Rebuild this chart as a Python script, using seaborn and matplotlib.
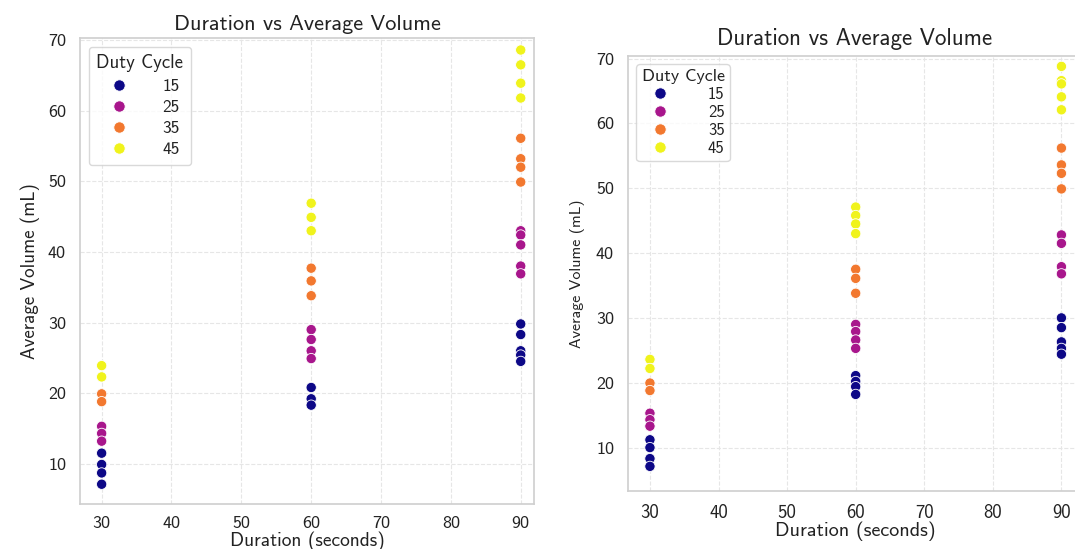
import numpy as np
import pandas as pd
import matplotlib
matplotlib.use("Agg")
import matplotlib.pyplot as plt
import seaborn as sns

# ---------------- data ----------------
duty_levels = [15, 25, 35, 45]
duty_colors = ["#0d0887", "#a8168c", "#f2782f", "#f0f31c"]

left_duration = [30]*11 + [60]*13 + [90]*18
left_duty = ([45]*2 + [35]*2 + [25]*3 + [15]*4 +
             [45]*3 + [35]*3 + [25]*4 + [15]*3 +
             [45]*4 + [35]*4 + [25]*5 + [15]*5)
left_volume = [23.9, 22.3, 19.9, 18.8, 15.3, 14.3, 13.2, 11.5, 9.9, 8.7, 7.1,
               46.9, 44.9, 43.0, 37.7, 35.9, 33.8, 29.0, 27.6, 26.0, 24.9, 20.8, 19.2, 18.3,
               68.6, 66.5, 63.9, 61.8, 56.1, 53.2, 52.0, 49.9, 43.0, 42.4, 41.0, 38.0, 36.9,
               29.8, 28.3, 26.0, 25.4, 24.5]

right_duration = [30]*11 + [60]*15 + [90]*18
right_duty = ([45]*2 + [35]*2 + [25]*3 + [15]*4 +
              [45]*4 + [35]*3 + [25]*4 + [15]*4 +
              [45]*5 + [35]*4 + [25]*4 + [15]*5)
right_volume = [23.6, 22.2, 19.95, 18.8, 15.3, 14.3, 13.3, 11.2, 10.0, 8.3, 7.1,
                47.1, 45.8, 44.5, 43.0, 37.5, 36.1, 33.8, 29.0, 27.9, 26.6, 25.3,
                21.1, 20.2, 19.4, 18.2,
                68.8, 66.6, 66.1, 64.1, 62.1, 56.2, 53.6, 52.3, 49.9, 42.8, 41.5, 37.9, 36.8,
                30.0, 28.5, 26.3, 25.3, 24.4]

x_ticks = [30, 40, 50, 60, 70, 80, 90]
y_ticks = [10, 20, 30, 40, 50, 60, 70]

title = "Duration vs Average Volume"
xlabel = "Duration (seconds)"
ylabel = "Average Volume (mL)"
legend_title = "Duty Cycle"

# ---------------- style ----------------
sns.set_theme(style="whitegrid")
plt.rcParams["font.family"] = ["cmss10", "DejaVu Sans"]
plt.rcParams["grid.linestyle"] = "--"
plt.rcParams["grid.color"] = "#e6e6e6"
plt.rcParams["grid.linewidth"] = 0.8
plt.rcParams["axes.edgecolor"] = "#d0d0d0"
plt.rcParams["text.color"] = "#222222"
plt.rcParams["axes.labelcolor"] = "#222222"
plt.rcParams["xtick.color"] = "#222222"
plt.rcParams["ytick.color"] = "#222222"

fig = plt.figure(figsize=(10.75, 5.49), dpi=100)
palette = dict(zip(duty_levels, duty_colors))


def panel(rect, dur, duty, vol, xlim, ylim, fs):
    ax = fig.add_axes(rect)
    df = pd.DataFrame({"Duration": dur, "Duty Cycle": duty, "Volume": vol})
    sns.scatterplot(data=df, x="Duration", y="Volume", hue="Duty Cycle",
                    hue_order=duty_levels, palette=palette, s=55,
                    edgecolor="white", linewidth=0.6, legend="full", ax=ax)
    ax.set_xlim(*xlim)
    ax.set_ylim(*ylim)
    ax.set_xticks(x_ticks)
    ax.set_yticks(y_ticks)
    ax.tick_params(axis="x", labelsize=fs["xtick"], pad=3)
    ax.tick_params(axis="y", labelsize=fs["ytick"], pad=4)
    ax.set_title(title, fontsize=fs["title"], pad=fs["title_pad"])
    ax.set_xlabel(xlabel, fontsize=fs["xlabel"], labelpad=0)
    ax.set_ylabel(ylabel, fontsize=fs["ylabel"], labelpad=fs["ylabel_pad"])
    leg = ax.legend(title=legend_title, loc="upper left", fontsize=fs["leg"],
                    title_fontsize=fs["legt"], frameon=True, borderpad=fs["bp"],
                    handletextpad=fs["htp"], handlelength=2.2,
                    labelspacing=fs["ls"], markerscale=1.1)
    leg.get_frame().set_edgecolor("#d0d0d0")
    for sp in ax.spines.values():
        sp.set_color("#d0d0d0")
    return ax, leg


panel([80/1075, 1 - 504/549, 454/1075, (504 - 38)/549],
      left_duration, left_duty, left_volume, (26.9, 91.9), (4.3, 70.3),
      dict(xtick=13, ytick=13, title=16, title_pad=6, xlabel=14, ylabel=13.7,
           ylabel_pad=6, leg=12.5, legt=13.5, htp=1.4, ls=0.35, bp=0.45))
ax2, leg2 = panel([628/1075, 1 - 491/549, 454/1075, (491 - 56)/549],
                  right_duration, right_duty, right_volume, (26.8, 93.0), (3.3, 70.4),
                  dict(xtick=13.5, ytick=13, title=16.5, title_pad=8, xlabel=14.5,
                       ylabel=11.5, ylabel_pad=8, leg=12, legt=13, htp=1.8, ls=0.18,
                       bp=0.3))
leg2.legend_handles[0].set_color("#3b0f70")

fig.savefig("out.png", dpi=100)
